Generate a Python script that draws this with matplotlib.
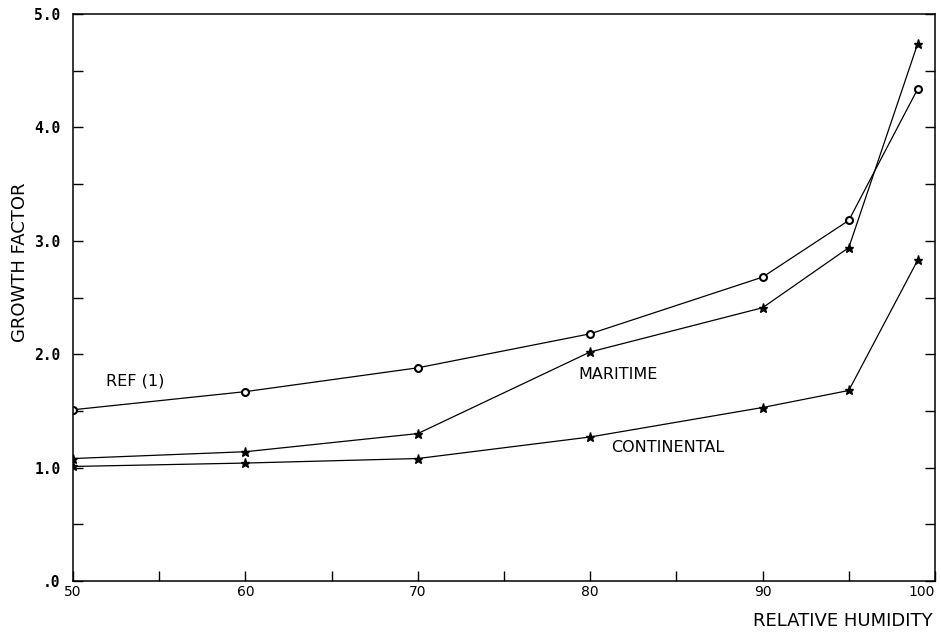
import matplotlib
matplotlib.use("Agg")
import matplotlib.pyplot as plt
from matplotlib.ticker import MultipleLocator, FixedLocator

# ---- data ----
rh = [50, 60, 70, 80, 90, 95, 99]
ref1 = [1.51, 1.67, 1.88, 2.18, 2.68, 3.18, 4.34]
maritime = [1.08, 1.14, 1.30, 2.02, 2.41, 2.94, 4.74]
continental = [1.01, 1.04, 1.08, 1.27, 1.53, 1.68, 2.83]

x_ticks = [50, 60, 70, 80, 90, 100]
x_ticklabels = ["50", "60", "70", "80", "90", "100"]
y_ticks = [0, 1, 2, 3, 4, 5]
y_ticklabels = [".0", "1.0", "2.0", "3.0", "4.0", "5.0"]

annotations = [("REF (1)", 51.9, 1.76), ("MARITIME", 79.3, 1.82), ("CONTINENTAL", 81.2, 1.18)]

fig = plt.figure(figsize=(9.41, 6.39), dpi=100)
ax = fig.add_axes([0.0776, 0.0908, 0.916, 0.8872])

lw = 0.9
ax.plot(rh, ref1, color="black", lw=lw, marker="o", ms=5, mfc="white", mec="black", mew=1.5)
ax.plot(rh, maritime, color="black", lw=lw, marker="*", ms=6.5, mfc="black", mec="black")
ax.plot(rh, continental, color="black", lw=lw, marker="*", ms=6.5, mfc="black", mec="black")

for txt, x, y in annotations:
    ax.text(x, y, txt, fontsize=11.5, ha="left", va="center", family="DejaVu Sans")

ax.set_xlim(50, 100)
ax.set_ylim(0, 5)

ax.xaxis.set_major_locator(FixedLocator(x_ticks))
xl = ax.set_xticklabels(x_ticklabels, fontsize=10)
xl[-1].set_horizontalalignment("right")
ax.xaxis.set_minor_locator(MultipleLocator(5))
ax.yaxis.set_major_locator(FixedLocator(y_ticks))
ax.set_yticklabels(y_ticklabels, family="DejaVu Sans Mono", fontsize=10.5, fontweight="bold")
ax.yaxis.set_minor_locator(MultipleLocator(0.5))

ax.tick_params(axis="both", which="both", direction="in", length=7, width=1, color="black")
ax.tick_params(axis="y", which="both", right=True, pad=9)
ax.tick_params(axis="x", which="both", top=False, pad=3)

for s in ax.spines.values():
    s.set_linewidth(1.1)

fig.text(0.021, 0.59, "GROWTH FACTOR", rotation=90, ha="center", va="center",
         fontsize=13)
fig.text(0.896, 0.014, "RELATIVE HUMIDITY", ha="center", va="bottom",
         fontsize=13)

fig.savefig("out.png", dpi=100)
